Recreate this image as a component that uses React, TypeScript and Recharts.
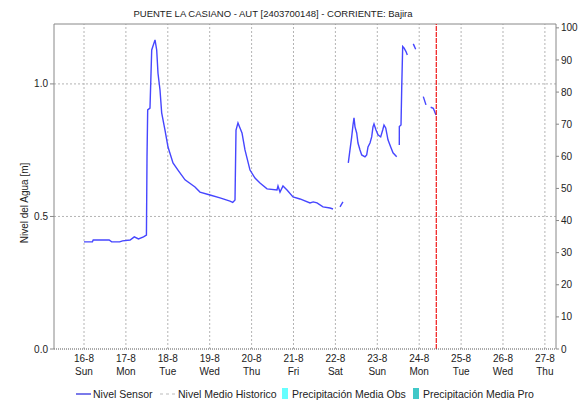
import { ComposedChart, Line, XAxis, YAxis, ReferenceLine } from 'recharts';

const FONT = "'Liberation Sans', Arial, sans-serif";

// days counted from 16-8 00:00
const dayTicks = [0, 1, 2, 3, 4, 5, 6, 7, 8, 9, 10, 11];
const dayLabels = ['16-8', '17-8', '18-8', '19-8', '20-8', '21-8', '22-8', '23-8', '24-8', '25-8', '26-8', '27-8'];
const weekdayLabels = ['Sun', 'Mon', 'Tue', 'Wed', 'Thu', 'Fri', 'Sat', 'Sun', 'Mon', 'Tue', 'Wed', 'Thu'];

const levelTicks = [0, 0.5, 1.0];
const rainTicks = [0, 10, 20, 30, 40, 50, 60, 70, 80, 90, 100];

// null entries break the line (missing readings)
const sensorTimes = [
  0.0, 0.2, 0.22, 0.6, 0.66, 0.85, 0.92, 1.1, 1.2, 1.3, 1.42, 1.49,
  1.504, 1.52, 1.575, 1.616, 1.695, 1.735, 1.766, 1.814, 1.854, 1.933, 2.005, 2.124,
  2.243, 2.411, 2.649, 2.768, 3.007, 3.246, 3.484, 3.55, 3.604,
  3.628, 3.675, 3.723, 3.771, 3.842, 3.962, 4.081, 4.2, 4.368, 4.606, 4.63, 4.678,
  4.749, 4.845, 4.988, 5.155, 5.394, 5.47, 5.561, 5.704, 5.871, 5.943,
  6.0,
  6.11, 6.18,
  6.25,
  6.308, 6.348, 6.389, 6.42, 6.444, 6.468, 6.508, 6.539, 6.587, 6.628, 6.706, 6.747,
  6.778, 6.826, 6.866, 6.897, 6.921, 6.969, 7.017, 7.081, 7.129, 7.16, 7.201, 7.255,
  7.32, 7.375, 7.463,
  7.49,
  7.525, 7.526, 7.566, 7.583, 7.606, 7.637, 7.685, 7.716,
  7.8,
  7.859, 7.916,
  8.0,
  8.098, 8.162,
  8.22,
  8.274, 8.337, 8.401,
];
const sensorLevels = [
  0.404, 0.404, 0.411, 0.411, 0.404, 0.404, 0.408, 0.411, 0.423, 0.415, 0.423, 0.43,
  0.725, 0.902, 0.909, 1.128, 1.166, 1.128, 1.04, 0.977, 0.891, 0.826, 0.762, 0.702,
  0.675, 0.638, 0.611, 0.592, 0.581, 0.57, 0.558, 0.553, 0.562,
  0.826, 0.853, 0.834, 0.815, 0.751, 0.675, 0.645, 0.626, 0.604, 0.6, 0.615, 0.592,
  0.615, 0.6, 0.574, 0.566, 0.551, 0.555, 0.551, 0.536, 0.532, 0.528,
  null,
  0.536, 0.555,
  null,
  0.702, 0.751, 0.8, 0.845, 0.872, 0.838, 0.815, 0.777, 0.751, 0.732, 0.725, 0.732,
  0.762, 0.777, 0.8, 0.838, 0.849, 0.826, 0.808, 0.8, 0.826, 0.845, 0.834, 0.789,
  0.762, 0.74, 0.725,
  null,
  0.77, 0.839, 0.845, 0.985, 1.141, 1.136, 1.122, 1.109,
  null,
  1.151, 1.131,
  null,
  0.952, 0.921,
  null,
  0.912, 0.908, 0.883,
];

const nowMark = 8.408;
const xDomain = [-0.716, 11.265];
const levelMax = 1.226;
const rainMax = 101.2;

const data = sensorTimes.map((t, i) => ({ t, nivel: sensorLevels[i] }));

const gridStyle = { stroke: '#b4b4b4', strokeDasharray: '2 2', strokeWidth: 1 };

function DayTick(props: any) {
  const { x, y, payload } = props;
  const i = Math.round(payload.value);
  return (
    <g fontFamily={FONT} fontSize={10} fill="#222">
      <text x={x} y={y + 13} textAnchor="middle">{dayLabels[i]}</text>
      <text x={x} y={y + 26} textAnchor="middle">{weekdayLabels[i]}</text>
    </g>
  );
}

export default function App() {
  return (
    <div style={{ position: 'absolute', left: 0, top: 0, width: 585, height: 401, background: '#fff' }}>
      <ComposedChart width={585} height={401} data={data} margin={{ top: 24, right: 0, bottom: 0, left: 0 }}>
        <XAxis
          dataKey="t"
          type="number"
          domain={xDomain}
          ticks={dayTicks}
          allowDataOverflow
          height={52}
          tickSize={0}
          tickMargin={0}
          tickLine={false}
          axisLine={{ stroke: '#555', strokeDasharray: '1 1' }}
          tick={<DayTick />}
        />
        <YAxis
          yAxisId="left"
          width={54}
          domain={[0, levelMax]}
          ticks={levelTicks}
          allowDataOverflow
          tickFormatter={(v: number) => v.toFixed(1)}
          tickSize={4}
          tickMargin={2}
          axisLine={{ stroke: '#888' }}
          tickLine={{ stroke: '#888' }}
          tick={{ fontSize: 10, fill: '#222', fontFamily: FONT }}
          label={{
            content: () => (
              <text x={24} y={203} transform="rotate(-90, 24, 203)" textAnchor="middle" dominantBaseline="central" fontSize={10} fill="#222" fontFamily={FONT}>
                Nivel del Agua [m]
              </text>
            ),
          }}
        />
        <YAxis
          yAxisId="right"
          orientation="right"
          width={29}
          domain={[0, rainMax]}
          ticks={rainTicks}
          allowDataOverflow
          tickSize={3}
          tickMargin={2}
          axisLine={{ stroke: '#888' }}
          tickLine={{ stroke: '#888' }}
          tick={{ fontSize: 10, fill: '#222', fontFamily: FONT }}
        />
        {dayTicks.map((d) => (
          <ReferenceLine key={'gx' + d} yAxisId="left" x={d} {...gridStyle} />
        ))}
        {levelTicks.filter((v) => v > 0).map((v) => (
          <ReferenceLine key={'gy' + v} yAxisId="left" y={v} {...gridStyle} />
        ))}
        <ReferenceLine yAxisId="left" y={levelMax} stroke="#888" />
        <Line
          yAxisId="left"
          dataKey="nivel"
          stroke="#4646ff"
          strokeWidth={1.4}
          dot={false}
          connectNulls={false}
          isAnimationActive={false}
        />
        <ReferenceLine yAxisId="left" x={nowMark} stroke="#f01818" strokeWidth={1.2} strokeDasharray="5 1" />
      </ComposedChart>

      <svg width={585} height={401} style={{ position: 'absolute', left: 0, top: 0, pointerEvents: 'none' }} fontFamily={FONT}>
        <text x={273} y={17} textAnchor="middle" fontSize={9.5} fill="#222">
          PUENTE LA CASIANO - AUT [2403700148] - CORRIENTE: Bajira
        </text>
        <g fontSize={10.5} fill="#222">
          <line x1={76} y1={394} x2={91} y2={394} stroke="#2222dd" strokeWidth={1.2} />
          <text x={93} y={398}>Nivel Sensor</text>
          <line x1={160} y1={394} x2={175} y2={394} stroke="#bbbbbb" strokeWidth={1} strokeDasharray="3 3" />
          <text x={178} y={398}>Nivel Medio Historico</text>
          <rect x={282} y={388} width={6} height={11} fill="#66ffff" />
          <text x={292} y={398}>Precipitación Media Obs</text>
          <rect x={413} y={388} width={6} height={11} fill="#40c8c8" />
          <text x={423} y={398}>Precipitación Media Pro</text>
        </g>
      </svg>
    </div>
  );
}
